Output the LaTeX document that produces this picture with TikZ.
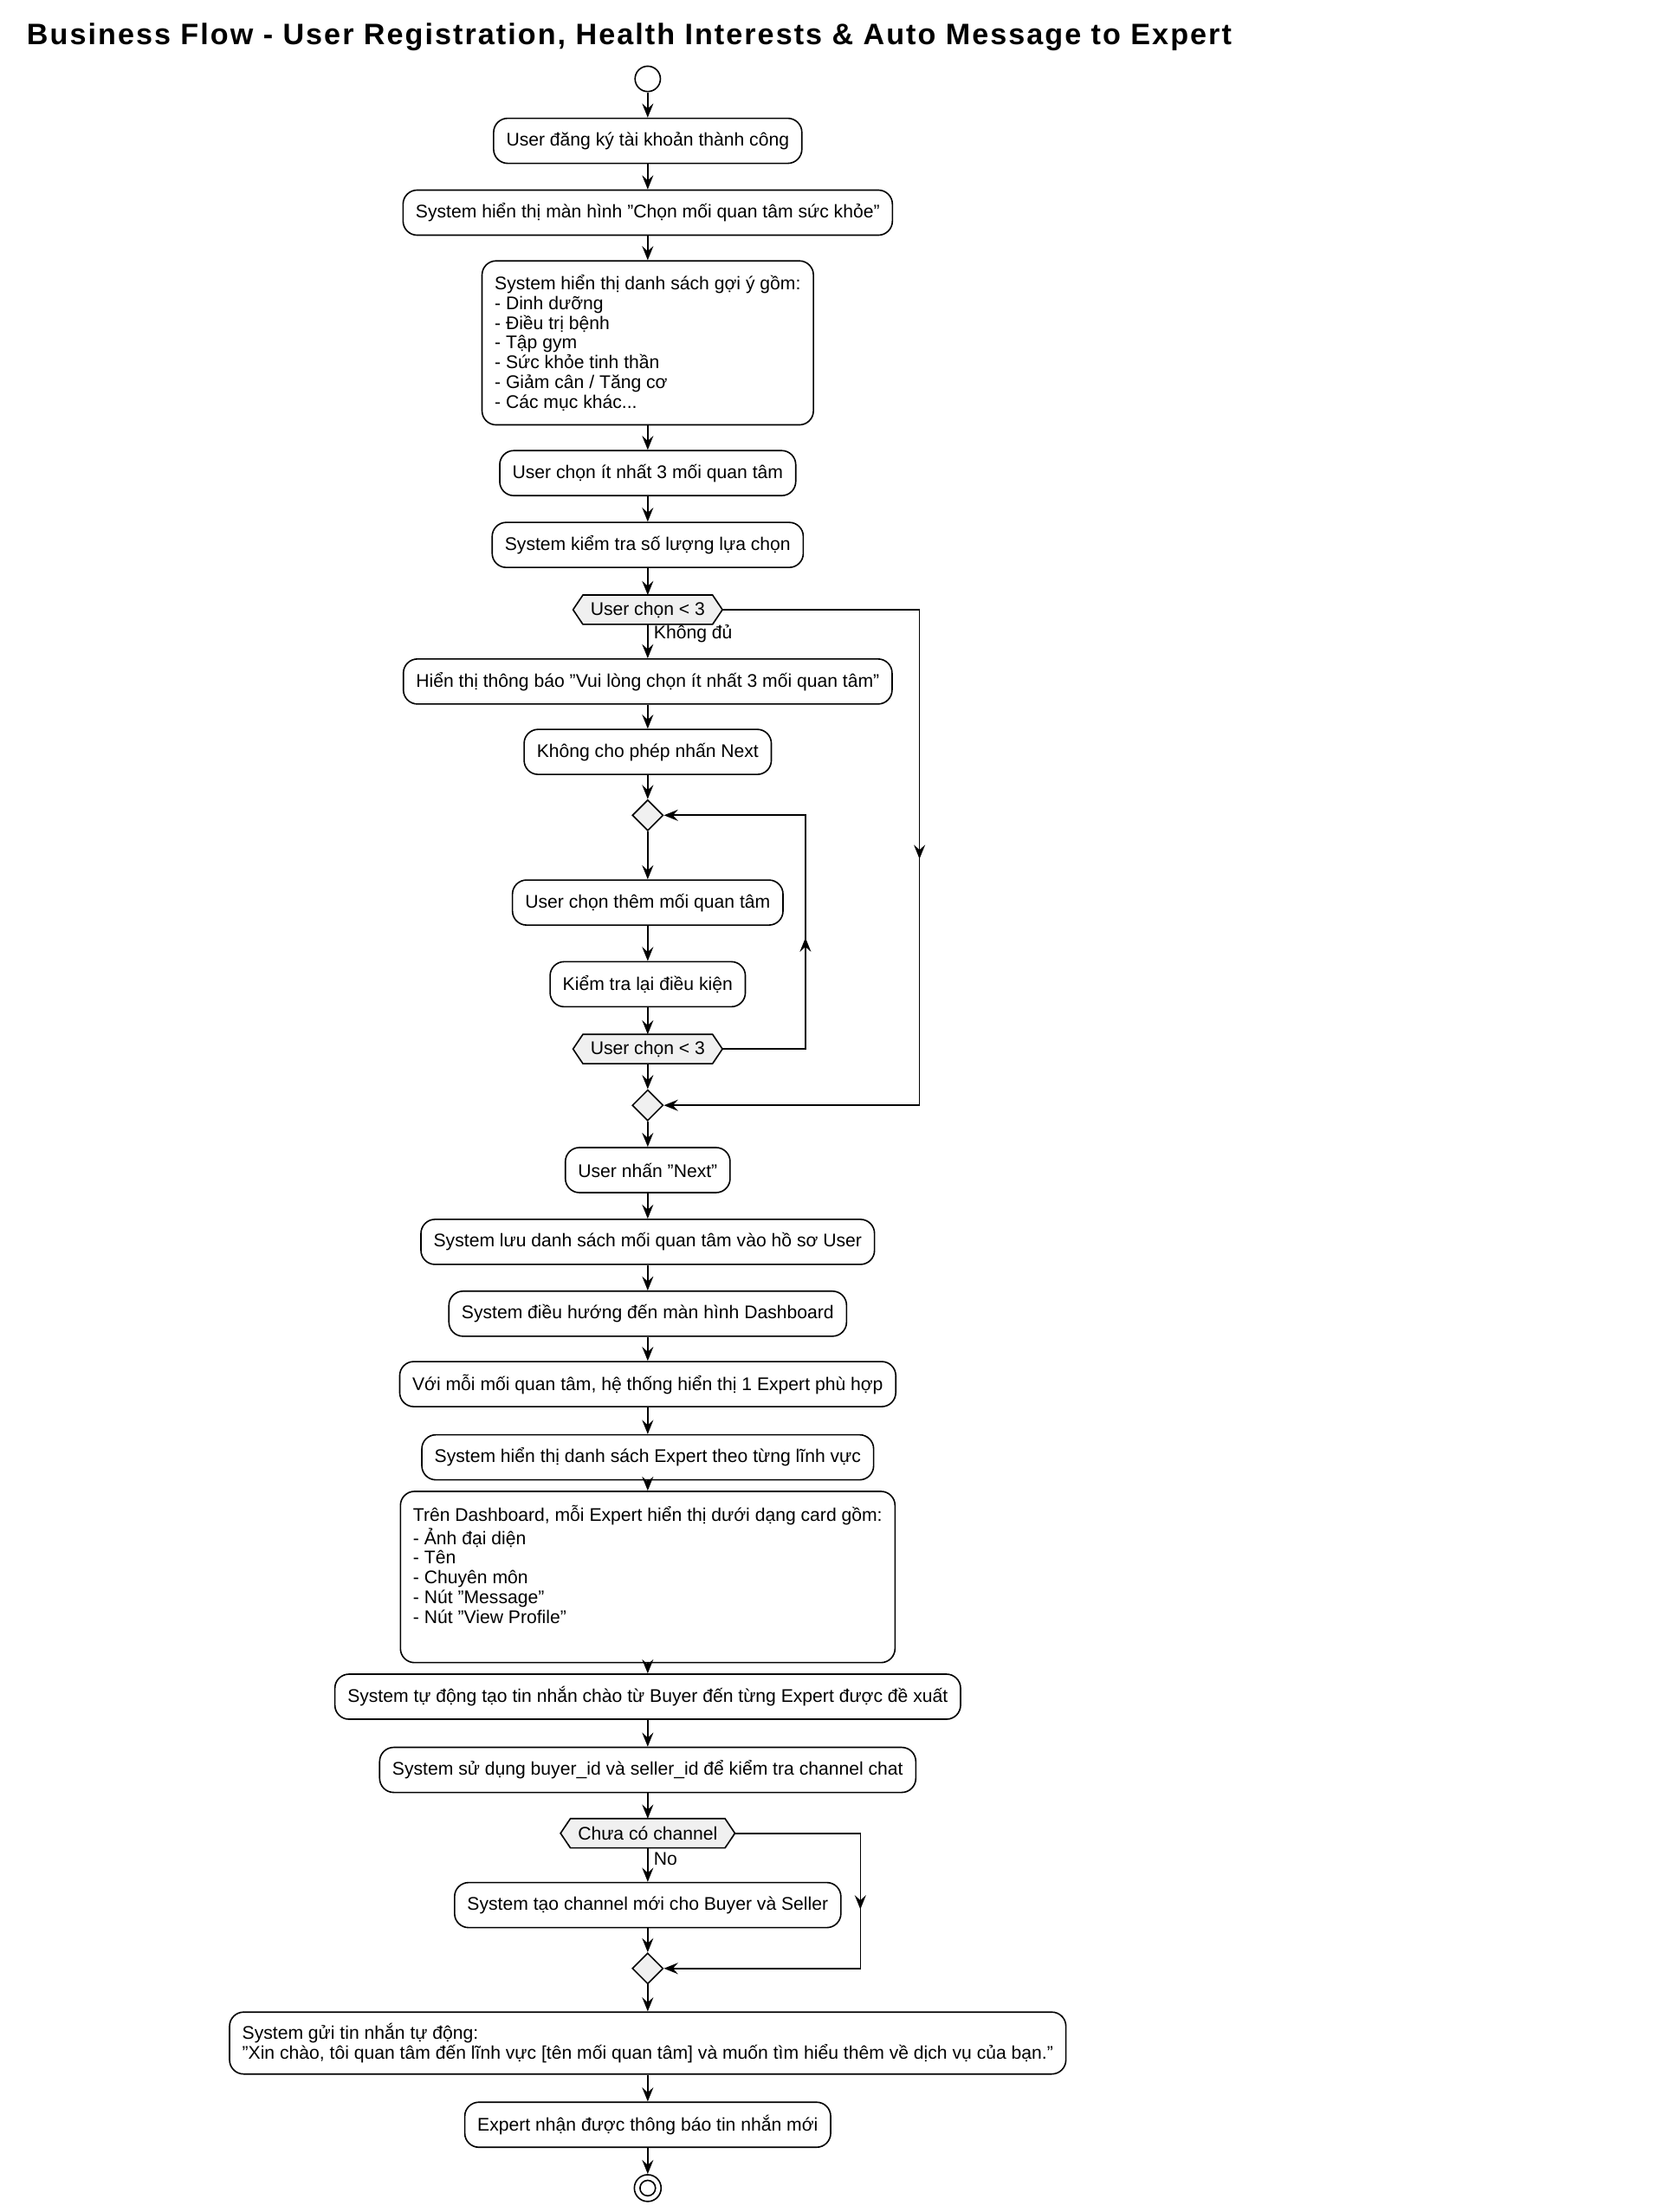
\documentclass[tikz,border=0pt]{standalone}
\usepackage{fontspec}
\setmainfont{Liberation Sans}
\usetikzlibrary{arrows.meta,calc,shapes.geometric}
\pgfdeclarelayer{bg}\pgfsetlayers{bg,main}
\begin{document}
\begin{tikzpicture}[x=0.5pt,y=-0.5pt,
  font=\fontsize{6.5pt}{7pt}\selectfont,
  box/.style={draw,rounded corners=5pt,fill=white,minimum height=16pt,inner xsep=4.5pt,inner ysep=3pt,line width=0.5pt},
  lbox/.style={box,align=left,inner ysep=5pt},
  hex/.style={minimum height=10pt,inner xsep=6pt,inner ysep=0pt},
  dia/.style={draw,diamond,fill=black!6,minimum size=11pt,inner sep=0pt,line width=0.5pt},
  arr/.style={-{Stealth[length=5pt,width=4pt,inset=1.8pt]},line width=0.5pt},
  ln/.style={line width=0.5pt}]
\useasboundingbox (0,0) rectangle (1181,1571);
\node[anchor=west,font=\fontsize{10.5pt}{12pt}\selectfont\bfseries,text width=460pt] (title) at (12,26) {\addfontfeature{LetterSpace=6}Business Flow - User Registration, Health Interests \& Auto Message to Expert};
\node[draw,circle,minimum size=9pt,inner sep=0pt,line width=0.5pt] (start) at (460,56) {};
\node[box] (n1) at (460,100) {User đăng ký tài khoản thành công};
\node[box] (n2) at (460,151) {System hiển thị màn hình "Chọn mối quan tâm sức khỏe"};
\node[lbox] (n3) at (460,243.5) {System hiển thị danh sách gợi ý gồm:\\- Dinh dưỡng\\- Điều trị bệnh\\- Tập gym\\- Sức khỏe tinh thần\\- Giảm cân / Tăng cơ\\- Các mục khác...};
\node[box] (n4) at (460,336) {User chọn ít nhất 3 mối quan tâm};
\node[box] (n5) at (460,387) {System kiểm tra số lượng lựa chọn};
\node[hex] (h6) at (460,433) {User chọn < 3};
\node[box] (n7) at (460,484) {Hiển thị thông báo "Vui lòng chọn ít nhất 3 mối quan tâm"};
\node[box] (n8) at (460,534) {Không cho phép nhấn Next};
\node[dia] (d9) at (460,579) {};
\node[box] (n10) at (460,641) {User chọn thêm mối quan tâm};
\node[box] (n11) at (460,699) {Kiểm tra lại điều kiện};
\node[hex] (h12) at (460,745) {User chọn < 3};
\node[dia] (d13) at (460,785) {};
\node[box] (n14) at (460,831) {User nhấn "Next"};
\node[box] (n15) at (460,882) {System lưu danh sách mối quan tâm vào hồ sơ User};
\node[box] (n16) at (460,933) {System điều hướng đến màn hình Dashboard};
\node[box] (n17) at (460,983) {Với mỗi mối quan tâm, hệ thống hiển thị 1 Expert phù hợp};
\node[box] (n18) at (460,1035) {System hiển thị danh sách Expert theo từng lĩnh vực};
\node[lbox] (n19) at (460,1120) {Trên Dashboard, mỗi Expert hiển thị dưới dạng card gồm:\\- Ảnh đại diện\\- Tên\\- Chuyên môn\\- Nút "Message"\\- Nút "View Profile"\\[2pt]};
\node[box] (n20) at (460,1205) {System tự động tạo tin nhắn chào từ Buyer đến từng Expert được đề xuất};
\node[box] (n21) at (460,1257) {System sử dụng buyer\_id và seller\_id để kiểm tra channel chat};
\node[hex] (h22) at (460,1302) {Chưa có channel};
\node[box] (n23) at (460,1353) {System tạo channel mới cho Buyer và Seller};
\node[dia] (d24) at (460,1398) {};
\node[lbox,inner ysep=4pt] (n25) at (460,1451) {System gửi tin nhắn tự động:\\"Xin chào, tôi quan tâm đến lĩnh vực [tên mối quan tâm] và muốn tìm hiểu thêm về dịch vụ của bạn."};
\node[box] (n26) at (460,1509) {Expert nhận được thông báo tin nhắn mới};
\node[draw,circle,minimum size=9.5pt,inner sep=0pt,line width=0.5pt] (stop) at (460,1554) {};
\node[draw,circle,minimum size=5.5pt,inner sep=0pt,line width=0.5pt] (stopi) at (460,1554) {};
\begin{pgfonlayer}{bg}
\foreach \h in {h6,h12,h22}{
 \draw[fill=black!6,line width=0.5pt] (\h.west) -- ($(\h.north west)+(7,0)$) -- ($(\h.north east)+(-7,0)$) -- (\h.east) -- ($(\h.south east)+(-7,0)$) -- ($(\h.south west)+(7,0)$) -- cycle;}
\end{pgfonlayer}
\node[anchor=west,inner sep=0pt] (l1) at (464,450) {Không đủ};
\node[anchor=west,inner sep=0pt] (l2) at (464,1320) {No};
\draw[arr] (start) -- (n1);
\draw[arr] (n1) -- (n2);
\draw[arr] (n2) -- (n3);
\draw[arr] (n3) -- (n4);
\draw[arr] (n4) -- (n5);
\draw[arr] (n5) -- (h6);
\draw[arr] (h6) -- (n7);
\draw[arr] (n7) -- (n8);
\draw[arr] (n8) -- (d9);
\draw[arr] (d9) -- (n10);
\draw[arr] (n10) -- (n11);
\draw[arr] (n11) -- (h12);
\draw[arr] (h12) -- (d13);
\draw[arr] (d13) -- (n14);
\draw[arr] (n14) -- (n15);
\draw[arr] (n15) -- (n16);
\draw[arr] (n16) -- (n17);
\draw[arr] (n17) -- (n18);
\draw[arr] (n18) -- (n19);
\draw[arr] (n19) -- (n20);
\draw[arr] (n20) -- (n21);
\draw[arr] (n21) -- (h22);
\draw[arr] (h22) -- (n23);
\draw[arr] (n23) -- (d24);
\draw[arr] (d24) -- (n25);
\draw[arr] (n25) -- (n26);
\draw[arr] (n26) -- (stop);
% inner loop
\coordinate (a1) at (572,745); \coordinate (a2) at (572,579); \coordinate (am) at (572,666);
\draw[arr] (h12.east) -- (a1) -- (a2) -- (d9.east);
\draw[arr] (a1) -- (am);
% outer bypass
\coordinate (b1) at (653,433); \coordinate (b2) at (653,785); \coordinate (bm) at (653,610);
\draw[arr] (h6.east) -- (b1) -- (b2) -- (d13.east);
\draw[arr] (b1) -- (bm);
% channel bypass
\coordinate (c1) at (611,1302); \coordinate (c2) at (611,1398); \coordinate (cm) at (611,1356);
\draw[arr] (h22.east) -- (c1) -- (c2) -- (d24.east);
\draw[arr] (c1) -- (cm);
\end{tikzpicture}
\end{document}
